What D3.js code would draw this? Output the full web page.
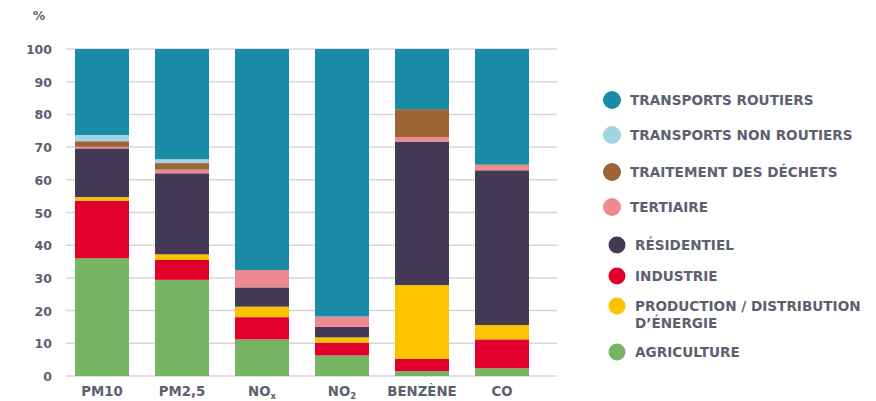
<!DOCTYPE html>
<html>
<head>
<meta charset="utf-8">
<script src="https://cdn.jsdelivr.net/npm/d3@7"></script>
<style>
  html, body { margin: 0; padding: 0; background: #fff; }
  svg { display: block; }
  text { font-family: "DejaVu Sans", sans-serif; font-weight: bold; fill: #5c6070; }
</style>
</head>
<body>
<svg id="chart" width="876" height="401"></svg>
<script>
// Polluants (axe des x)
const polluants = ["PM10", "PM2,5", "NOx", "NO2", "BENZÈNE", "CO"];

// Secteurs, du bas de la pile vers le haut
const secteurs = [
  "AGRICULTURE", "INDUSTRIE", "PRODUCTION / DISTRIBUTION D’ÉNERGIE", "RÉSIDENTIEL",
  "TERTIAIRE", "TRAITEMENT DES DÉCHETS", "TRANSPORTS NON ROUTIERS", "TRANSPORTS ROUTIERS"
];
const couleurs = ["#77b564", "#e0002b", "#fcc300", "#443a56", "#ef8a92", "#9a6434", "#a4d3e1", "#1a8ba7"];

// Parts (%) par secteur, dans l'ordre des polluants
const agriculture       = [36.0, 29.4, 11.2,  6.3,  1.5,  2.4];
const industrie         = [17.6,  6.1,  6.8,  3.9,  3.7,  8.8];
const production        = [ 1.1,  1.7,  3.2,  1.6, 22.6,  4.4];
const residentiel       = [14.9, 24.8,  5.9,  3.3, 43.9, 47.3];
const tertiaire         = [ 0.5,  1.1,  5.3,  3.1,  1.4,  1.5];
const dechets           = [ 1.7,  2.0,  0.0,  0.0,  8.5,  0.3];
const nonRoutiers       = [ 1.9,  1.2,  0.0,  0.0,  0.0,  0.0];
const routiers          = [26.3, 33.7, 67.6, 81.8, 18.4, 35.3];

const yTicks = [0, 10, 20, 30, 40, 50, 60, 70, 80, 90, 100];

const seriesValues = [agriculture, industrie, production, residentiel, tertiaire, dechets, nonRoutiers, routiers];
const rows = polluants.map((p, i) => {
  const r = { polluant: p };
  secteurs.forEach((s, k) => { r[s] = seriesValues[k][i]; });
  return r;
});

const svg = d3.select("#chart");

const x = d3.scaleBand().domain(polluants).range([62, 542]).paddingInner(0.325).paddingOuter(0.1625);
const y = d3.scaleLinear().domain([0, 100]).range([376, 49]);

// Grille horizontale
svg.append("g").selectAll("line").data(yTicks).join("line")
  .attr("x1", 66).attr("x2", 557)
  .attr("y1", d => y(d)).attr("y2", d => y(d))
  .attr("stroke", "#d6d6d6").attr("stroke-width", 1.5);

// Axe des y
const yAxis = svg.append("g").attr("transform", "translate(52,0)")
  .call(d3.axisLeft(y).tickValues(yTicks).tickSize(0).tickPadding(0));
yAxis.select(".domain").remove();
yAxis.selectAll("text").attr("font-size", 12.5).attr("dy", "0.36em")
  .style("font-family", "'DejaVu Sans', sans-serif").style("font-weight", "bold").style("fill", "#5c6070");

svg.append("text").attr("x", 39).attr("y", 20).attr("text-anchor", "middle")
  .attr("font-size", 12.5).text("%");

// Barres empilées
const stack = d3.stack().keys(secteurs)(rows);
svg.append("g").selectAll("g").data(stack).join("g")
  .attr("fill", (d, i) => couleurs[i])
  .selectAll("rect").data(d => d).join("rect")
  .attr("x", d => x(d.data.polluant))
  .attr("width", x.bandwidth())
  .attr("y", d => y(d[1]))
  .attr("height", d => y(d[0]) - y(d[1]));

// Étiquettes des polluants
const xLab = svg.append("g").selectAll("text").data(polluants).join("text")
  .attr("x", d => x(d) + x.bandwidth() / 2)
  .attr("y", 396)
  .attr("text-anchor", "middle")
  .attr("font-size", 13.3);
xLab.each(function (d) {
  const t = d3.select(this);
  if (d === "NOx" || d === "NO2") {
    t.append("tspan").text("NO");
    t.append("tspan").attr("font-size", 8.5).attr("dy", 3).text(d.slice(2));
  } else {
    t.text(d);
  }
});

// Légende
const legend = [
  { k: 7, cx: 612, r: 9, y: 100, lines: ["TRANSPORTS ROUTIERS"], tx: 630 },
  { k: 6, cx: 612, r: 9, y: 135, lines: ["TRANSPORTS NON ROUTIERS"], tx: 630 },
  { k: 5, cx: 612, r: 9, y: 172, lines: ["TRAITEMENT DES DÉCHETS"], tx: 630 },
  { k: 4, cx: 612, r: 9, y: 207, lines: ["TERTIAIRE"], tx: 630 },
  { k: 3, cx: 617, r: 8.5, y: 245, lines: ["RÉSIDENTIEL"], tx: 635 },
  { k: 1, cx: 617, r: 8.5, y: 276, lines: ["INDUSTRIE"], tx: 635 },
  { k: 2, cx: 617, r: 8.5, y: 306, lines: ["PRODUCTION / DISTRIBUTION", "D’ÉNERGIE"], tx: 635 },
  { k: 0, cx: 617, r: 8.5, y: 352, lines: ["AGRICULTURE"], tx: 635 }
];
const lg = svg.append("g").selectAll("g").data(legend).join("g");
lg.append("circle").attr("cx", d => d.cx).attr("cy", d => d.y).attr("r", d => d.r)
  .attr("fill", d => couleurs[d.k]);
lg.each(function (d) {
  const g = d3.select(this);
  d.lines.forEach((line, i) => {
    g.append("text").attr("x", d.tx).attr("y", d.y + i * 17).attr("dy", "0.36em")
      .attr("font-size", 13.6).text(line);
  });
});
</script>
</body>
</html>
